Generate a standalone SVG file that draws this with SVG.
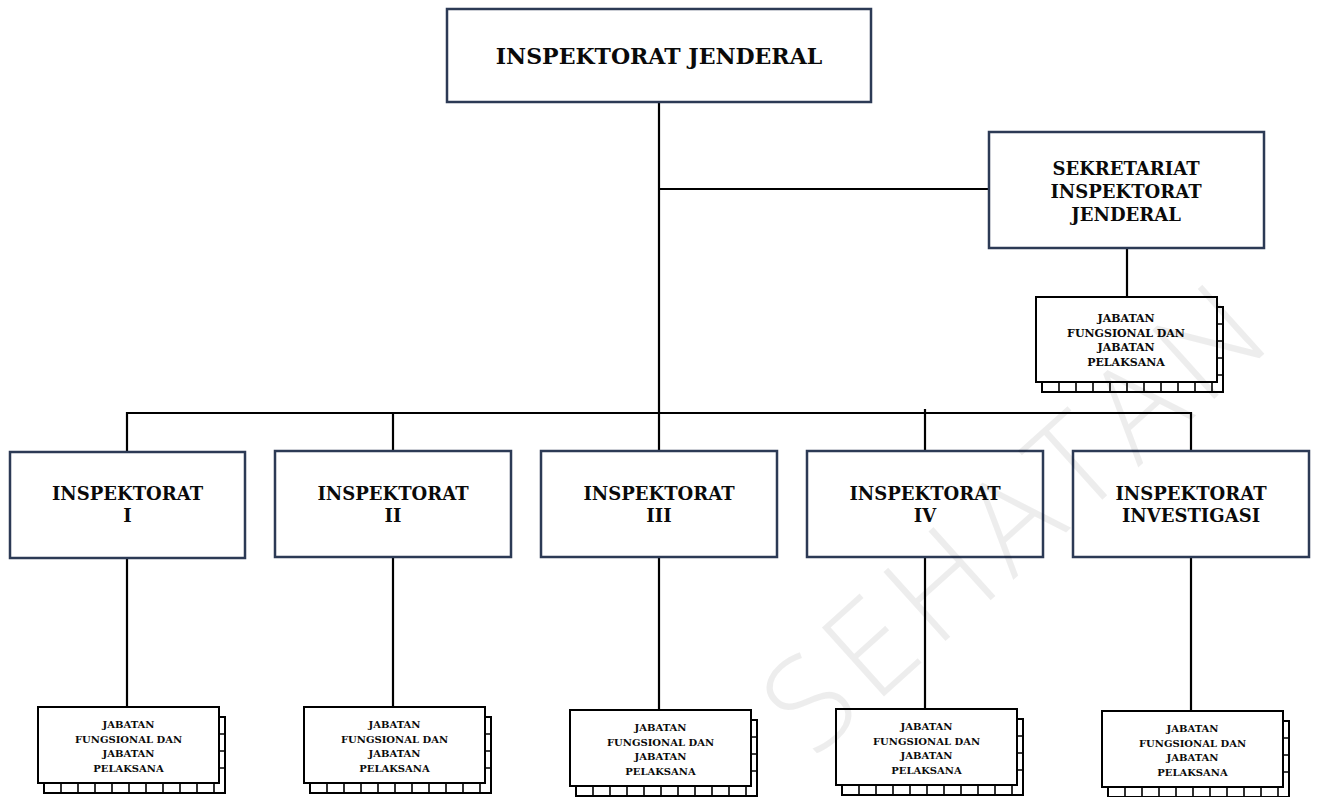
<svg xmlns="http://www.w3.org/2000/svg" xmlns:xlink="http://www.w3.org/1999/xlink" width="1317" height="797" viewBox="0 0 1317 797">
<style>
  .main { fill: #ffffff; stroke: #2c3a55; stroke-width: 2.5; }
  .jab { fill: #ffffff; stroke: #000000; stroke-width: 2; }
  .conn { stroke: #000000; stroke-width: 2.2; fill: none; }
  .tick { stroke: #000000; stroke-width: 1.6; fill: none; }
  .t { font-family: "DejaVu Serif", "Liberation Serif", serif; font-weight: bold; fill: #0a0a0a; text-anchor: middle; }
  .t22 { font-size: 22px; }
  .t18 { font-size: 18px; }
  .t11 { font-size: 11px; }
  .t10 { font-size: 10px; }
  .wm { font-family: "Open Sans", "DejaVu Sans", sans-serif; font-weight: 300; font-size: 130px; fill: #000000; fill-opacity: 0.07; text-anchor: middle; dominant-baseline: central; }
</style>
<defs>
  <g id="stackS">
    <rect x="6" y="10" width="181" height="76" class="jab"/>
    <path class="tick" d="M23 76V86M40 76V86M57 76V86M74 76V86M91 76V86M108 76V86M125 76V86M142 76V86M159 76V86M176 76V86M181 27H187M181 44H187M181 61H187"/>
    <rect x="0" y="0" width="181" height="76" class="jab"/>
  </g>
  <g id="stackL">
    <rect x="6" y="10" width="181" height="85" class="jab"/>
    <path class="tick" d="M23 85V95M40 85V95M57 85V95M74 85V95M91 85V95M108 85V95M125 85V95M142 85V95M159 85V95M176 85V95M181 27H187M181 44H187M181 61H187M181 78H187"/>
    <rect x="0" y="0" width="181" height="85" class="jab"/>
  </g>
</defs>

<g id="connectors">
  <path class="conn" d="M659 102V413"/>
  <path class="conn" d="M659 189H989"/>
  <path class="conn" d="M1127 248V297"/>
  <path class="conn" d="M127 451V413H1191V451"/>
  <path class="conn" d="M393 413V451"/>
  <path class="conn" d="M659 413V451"/>
  <path class="conn" d="M925 409V451"/>
  <path class="conn" d="M127 558V707"/>
  <path class="conn" d="M393 557V707"/>
  <path class="conn" d="M659 557V710"/>
  <path class="conn" d="M925 557V709"/>
  <path class="conn" d="M1191 557V711"/>
</g>

<g id="node-irjen">
  <rect x="447" y="9" width="424" height="93" class="main"/>
  <text class="t t22" x="659" y="64">INSPEKTORAT JENDERAL</text>
</g>

<g id="node-sekretariat">
  <rect x="989" y="132" width="275" height="116" class="main"/>
  <text class="t t18" x="1126" y="175">SEKRETARIAT</text>
  <text class="t t18" x="1126" y="198">INSPEKTORAT</text>
  <text class="t t18" x="1126" y="221">JENDERAL</text>
</g>

<g id="node-jab-sekretariat">
  <use xlink:href="#stackL" x="1036" y="297"/>
  <text class="t t11" x="1126" y="322">JABATAN</text>
  <text class="t t11" x="1126" y="336.5">FUNGSIONAL DAN</text>
  <text class="t t11" x="1126" y="351">JABATAN</text>
  <text class="t t11" x="1126" y="365.5">PELAKSANA</text>
</g>

<g id="node-insp-1">
  <rect x="10" y="452" width="235" height="106" class="main"/>
  <text class="t t18" x="127.5" y="500">INSPEKTORAT</text>
  <text class="t t18" x="127.5" y="522">I</text>
</g>
<g id="node-insp-2">
  <rect x="275" y="451" width="236" height="106" class="main"/>
  <text class="t t18" x="393" y="500">INSPEKTORAT</text>
  <text class="t t18" x="393" y="522">II</text>
</g>
<g id="node-insp-3">
  <rect x="541" y="451" width="236" height="106" class="main"/>
  <text class="t t18" x="659" y="500">INSPEKTORAT</text>
  <text class="t t18" x="659" y="522">III</text>
</g>
<g id="node-insp-4">
  <rect x="807" y="451" width="236" height="106" class="main"/>
  <text class="t t18" x="925" y="500">INSPEKTORAT</text>
  <text class="t t18" x="925" y="522">IV</text>
</g>
<g id="node-insp-inv">
  <rect x="1073" y="451" width="236" height="106" class="main"/>
  <text class="t t18" x="1191" y="500">INSPEKTORAT</text>
  <text class="t t18" x="1191" y="522">INVESTIGASI</text>
</g>

<g id="node-jab-1">
  <use xlink:href="#stackS" x="38" y="707"/>
  <text class="t t10" x="128.5" y="728">JABATAN</text>
  <text class="t t10" x="128.5" y="742.5">FUNGSIONAL DAN</text>
  <text class="t t10" x="128.5" y="757">JABATAN</text>
  <text class="t t10" x="128.5" y="771.5">PELAKSANA</text>
</g>
<g id="node-jab-2">
  <use xlink:href="#stackS" x="304" y="707"/>
  <text class="t t10" x="394.5" y="728">JABATAN</text>
  <text class="t t10" x="394.5" y="742.5">FUNGSIONAL DAN</text>
  <text class="t t10" x="394.5" y="757">JABATAN</text>
  <text class="t t10" x="394.5" y="771.5">PELAKSANA</text>
</g>
<g id="node-jab-3">
  <use xlink:href="#stackS" x="570" y="710"/>
  <text class="t t10" x="660.5" y="731">JABATAN</text>
  <text class="t t10" x="660.5" y="745.5">FUNGSIONAL DAN</text>
  <text class="t t10" x="660.5" y="760">JABATAN</text>
  <text class="t t10" x="660.5" y="774.5">PELAKSANA</text>
</g>
<g id="node-jab-4">
  <use xlink:href="#stackS" x="836" y="709"/>
  <text class="t t10" x="926.5" y="730">JABATAN</text>
  <text class="t t10" x="926.5" y="744.5">FUNGSIONAL DAN</text>
  <text class="t t10" x="926.5" y="759">JABATAN</text>
  <text class="t t10" x="926.5" y="773.5">PELAKSANA</text>
</g>
<g id="node-jab-inv">
  <use xlink:href="#stackS" x="1102" y="711"/>
  <text class="t t10" x="1192.5" y="732">JABATAN</text>
  <text class="t t10" x="1192.5" y="746.5">FUNGSIONAL DAN</text>
  <text class="t t10" x="1192.5" y="761">JABATAN</text>
  <text class="t t10" x="1192.5" y="775.5">PELAKSANA</text>
</g>

<g id="watermark">
  <text class="wm" x="1010" y="515" transform="rotate(-42 1010 515)" textLength="620" lengthAdjust="spacing">SEHATAN</text>
</g>
</svg>
